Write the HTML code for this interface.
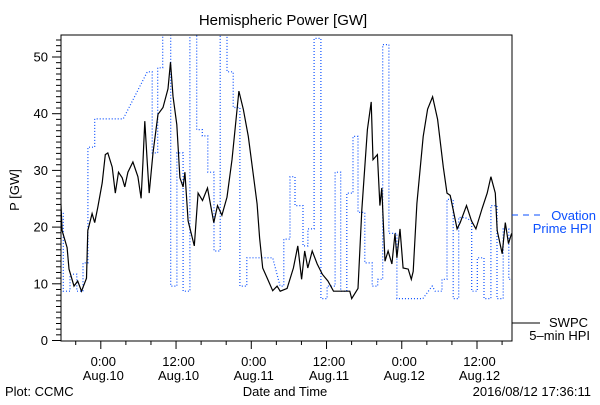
<!DOCTYPE html>
<html><head><meta charset="utf-8"><style>
body{margin:0;background:#fff;width:600px;height:400px;overflow:hidden}
svg text{font-family:"Liberation Sans",sans-serif}
</style></head><body>
<svg id="chart" width="600" height="400" xmlns="http://www.w3.org/2000/svg">
<rect width="600" height="400" fill="#fff"/>
<text x="283" y="25" font-size="15" text-anchor="middle">Hemispheric Power [GW]</text>
<text x="0" y="0" font-size="13" text-anchor="middle" transform="translate(19,190) rotate(-90)">P [GW]</text>
<defs><clipPath id="pc"><rect x="61" y="35" width="451" height="306"/></clipPath></defs>
<g id="ticks"></g>
<path id="blue" fill="none" stroke="#0a4fff" stroke-width="1.2" stroke-dasharray="1 2" clip-path="url(#pc)"/>
<path id="black" fill="none" stroke="#000" stroke-width="1.2" clip-path="url(#pc)"/>
<rect x="61" y="35" width="451" height="306" fill="none" stroke="#000" stroke-width="1"/>
<g>
<line x1="512" y1="215" x2="540" y2="215" stroke="#0a4fff" stroke-dasharray="6 5"/>
<text x="596" y="220" font-size="13" fill="#0a4fff" text-anchor="end">Ovation</text>
<text x="592" y="233" font-size="13" fill="#0a4fff" text-anchor="end">Prime HPI</text>
<line x1="512" y1="323" x2="540" y2="323" stroke="#000"/>
<text x="588" y="327" font-size="13" text-anchor="end">SWPC</text>
<text x="590" y="340" font-size="13" text-anchor="end">5–min HPI</text>
</g>
<text x="5" y="396" font-size="13">Plot: CCMC</text>
<text x="285" y="396" font-size="13" text-anchor="middle">Date and Time</text>
<text x="591" y="396" font-size="13" text-anchor="end">2016/08/12 17:36:11</text>
</svg>
<script>
const blackT=[-6.3,-6.1,-5.3,-5.0,-4.2,-3.6,-3.0,-2.2,-2.0,-1.3,-0.9,-0.4,0.3,0.8,1.2,1.9,2.4,2.9,3.5,3.9,4.4,5.2,6.0,6.5,6.8,7.1,7.5,7.8,8.4,9.2,10.0,10.8,11.2,11.6,12.2,12.7,13.2,13.5,14.0,15.0,15.6,16.3,17.1,18.1,18.7,19.4,20.2,21.0,22.1,22.8,23.6,25.0,25.4,25.9,26.7,27.5,28.2,28.7,29.8,30.8,31.5,32.1,32.6,33.1,33.8,34.6,35.4,36.3,37.2,39.8,40.1,41.1,41.7,42.6,43.2,43.5,44.2,44.6,44.9,45.4,45.9,46.5,47.0,47.3,47.8,48.3,49.1,49.6,49.9,50.5,51.5,52.2,53.0,53.8,54.7,55.3,55.8,56.9,57.4,58.4,59.2,59.9,60.9,61.7,62.3,63.0,63.3,64.1,64.6,65.1,65.6];
const blackV=[24.6,19.3,16.3,12.5,9.5,10.4,8.6,10.9,19.3,22.3,20.7,23.4,27.7,32.7,33,30.5,25.9,29.6,28.6,27,29.6,31.4,28.8,25,31.2,38.6,31.2,25.9,33,39.8,41,44.3,49,43,38,28.6,27,29.6,21,16.6,25.9,24.6,26.8,20.7,23.7,22,25.2,31.8,43.9,40.7,35.9,24,18,12.7,10.7,8.7,9.5,8.6,9.1,12.7,16.6,10.7,15.7,12.7,15.7,13.4,11.6,10.4,8.6,8.6,7.3,9.1,22.9,37.1,42,31.8,32.7,23.7,26.8,13.9,15.7,13.4,18.8,14.5,19.6,12.7,12.5,10.7,12.1,24.1,35.9,40.7,42.9,38.9,30.5,25.9,25.5,19.6,20.7,23.7,21,19.6,23.2,25.9,28.8,25.9,19.3,15.2,20.7,17,18.8];
const blueT=[-6.3,-5.9,-5.9,-4.83,-4.83,-3.75,-3.75,-2.76,-2.76,-1.97,-1.97,-0.89,-0.89,3.65,7.49,8.28,8.28,9.16,9.16,9.95,9.95,11.23,11.23,12.22,12.22,13.21,13.21,14.29,14.29,15.37,15.37,16.26,16.26,17.15,17.15,18.13,18.13,19.12,19.12,20.2,20.2,21.19,21.19,22.27,22.27,23.36,23.36,27.5,28.68,29.27,29.27,30.26,30.26,31.05,31.05,32.33,32.33,33.11,33.11,34.1,34.1,35.18,35.18,36.17,36.17,37.45,37.45,38.34,38.34,39.32,39.32,40.31,40.31,41.1,41.1,42.18,42.18,43.37,43.37,44.25,44.25,45.04,45.04,46.03,46.03,47.31,47.31,51.45,52.93,53.42,54.5,54.5,55.29,55.29,56.28,56.28,57.16,57.16,58.15,59.23,59.23,60.12,60.12,61.2,61.2,62.29,62.29,63.27,63.27,64.26,64.26,65.15,65.15,65.64];
const blueV=[22.5,22.5,8.6,8.6,11.6,11.6,8.6,8.6,13.6,13.6,34,34,39,39,47.3,47.3,33,33,48,48,60,60,9.5,9.5,33,33,8.6,8.6,60,60,37.1,37.1,36,36,29.6,29.6,15.7,15.7,60,60,47.3,47.3,41,41,9.5,9.5,14.5,14.5,9.5,9.5,17.8,17.8,28.8,28.8,23.7,23.7,16.6,16.6,19.6,19.6,53.2,53.2,7.3,7.3,9.5,9.5,29.6,29.6,8.6,8.6,25.9,25.9,35.9,35.9,22.5,22.5,13.6,13.6,9.5,9.5,10.7,10.7,52.1,52.1,18.8,18.8,7.3,7.3,9.5,8.6,8.6,10.7,10.7,24.8,24.8,7.3,7.3,21.6,21.6,21,8.6,8.6,14.5,14.5,7.3,7.3,23.7,23.7,7.3,7.3,19.6,19.6,10.7,10.7];
const yTickVals=[0,10,20,30,40,50];
const xTickHours=[0,12,24,36,48,60];
const xTickTimes=["0:00","12:00","0:00","12:00","0:00","12:00"];
const xTickDates=["Aug.10","Aug.10","Aug.11","Aug.11","Aug.12","Aug.12"];
const NS="http://www.w3.org/2000/svg";
function X(t){return 100.3+6.27*t;}
function Y(v){return 340-5.67*v;}
function pathOf(T,V){return T.map((t,i)=>(i?'L':'M')+X(t).toFixed(1)+' '+Y(V[i]).toFixed(1)).join(' ');}
document.getElementById('black').setAttribute('d',pathOf(blackT,blackV));
document.getElementById('blue').setAttribute('d',pathOf(blueT,blueV));
const g=document.getElementById('ticks');
function line(x1,y1,x2,y2,name){const l=document.createElementNS(NS,'line');
l.setAttribute('x1',x1);l.setAttribute('y1',y1);l.setAttribute('x2',x2);l.setAttribute('y2',y2);l.setAttribute('stroke','#000');


g.appendChild(l);}
function text(x,y,s,name,anchor){const t=document.createElementNS(NS,'text');
t.setAttribute('x',x);t.setAttribute('y',y);t.setAttribute('font-size','13');t.setAttribute('text-anchor',anchor);t.textContent=s;


g.appendChild(t);}
for(let v=0;v<=53;v++){const y=Y(v)+0.5;line(v%10===0?52:56,y,61,y,'y-tick');}
yTickVals.forEach(v=>text(48,Y(v)+5,String(v),'y-tick-label','end'));
for(let t=-4;t<=64;t+=4){const x=X(t)+0.5;line(x,341,x,t%12===0?349:345,'x-tick');}
xTickHours.forEach((h,i)=>{text(X(h)+3,366,xTickTimes[i],'x-tick-time','middle');text(X(h)+3,380,xTickDates[i],'x-tick-date','middle');});
</script>
</body></html>
